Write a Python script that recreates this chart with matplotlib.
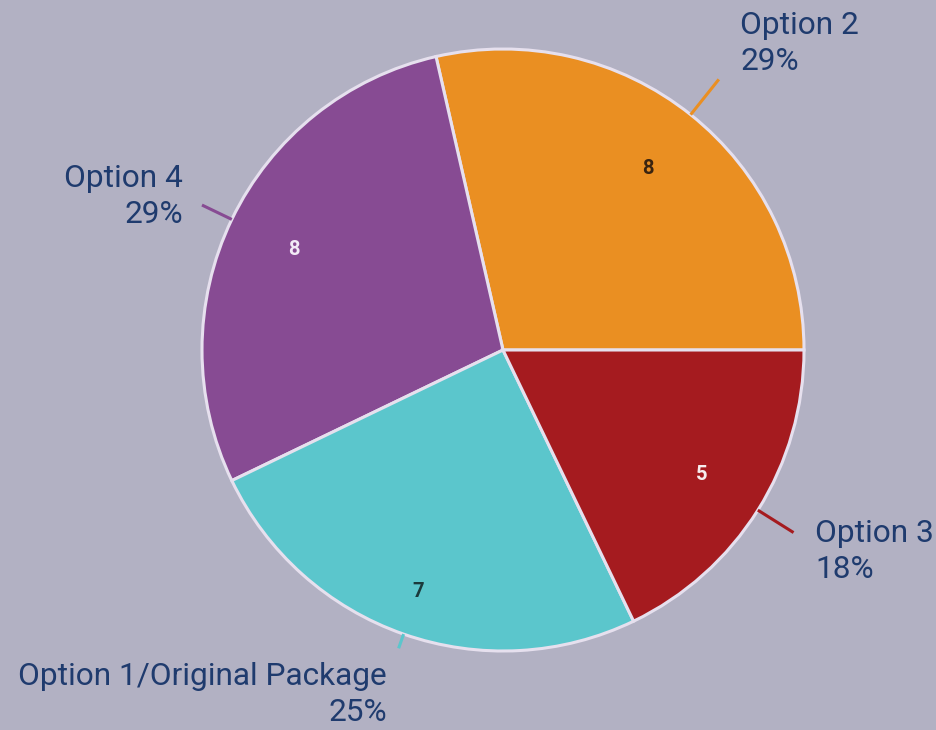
import numpy as np
import matplotlib
matplotlib.use("Agg")
import matplotlib.pyplot as plt

# Data
categories = ["Option 2", "Option 4", "Option 1/Original Package", "Option 3"]
values = [8, 8, 7, 5]
percent_labels = ["29%", "29%", "25%", "18%"]

# Style
colors = ["#EA8F22", "#874B93", "#5BC6CC", "#A51B1F"]
count_colors = ["#3A2410", "#F2EAF6", "#1B3A3C", "#F6EEEE"]
count_dist = [0.77, 0.77, 0.85, 0.78]
bg = "#B2B1C3"
text_color = "#1F3B6E"
leader = [(1.0, 1.15), (1.0, 1.11), (1.0, 1.05), (1.0, 1.14)]

W, H = 936, 730
CX, CY, R = 503, 350, 301

plt.rcParams['font.family'] = ['Roboto', 'DejaVu Sans']
fig = plt.figure(figsize=(W / 100, H / 100), dpi=100, facecolor=bg)
ax = fig.add_axes([(CX - R) / W, (H - CY - R) / H, 2 * R / W, 2 * R / H])
ax.set_facecolor(bg)
ax.axis("off")

wedges, _ = ax.pie(values, colors=colors, startangle=0, counterclock=True,
                   radius=1.0,
                   wedgeprops=dict(edgecolor="#E6E0EE", linewidth=2.2))
ax.set_xlim(-1, 1)
ax.set_ylim(-1, 1)
ax.set_aspect("equal")

for w, v, c, d, (r0, r1) in zip(wedges, values, count_colors, count_dist, leader):
    mid = np.deg2rad((w.theta1 + w.theta2) / 2)
    ax.text(d * np.cos(mid), d * np.sin(mid), str(v), ha="center", va="center",
            fontsize=14.5, fontweight="bold", color=c)
    ax.plot([r0 * np.cos(mid), r1 * np.cos(mid)], [r0 * np.sin(mid), r1 * np.sin(mid)],
            color=w.get_facecolor(), lw=2.2, solid_capstyle="butt", clip_on=False)


def px(x, y):
    return (x - CX) / R, (CY - y) / R

# outer labels: (pixel x, last-baseline pixel y, ha)
label_pos = [(740, 70, "left"), (183, 223, "right"), (387, 721, "right"), (815, 578, "left")]
for cat, pct, (x, y, ha) in zip(categories, percent_labels, label_pos):
    tx, ty = px(x, y)
    ax.text(tx, ty, f"{cat}\n{pct}", ha=ha, va="baseline", multialignment=ha,
            fontsize=22.8, color=text_color, linespacing=1.3, clip_on=False)

fig.savefig("out.png", dpi=100, facecolor=bg)
